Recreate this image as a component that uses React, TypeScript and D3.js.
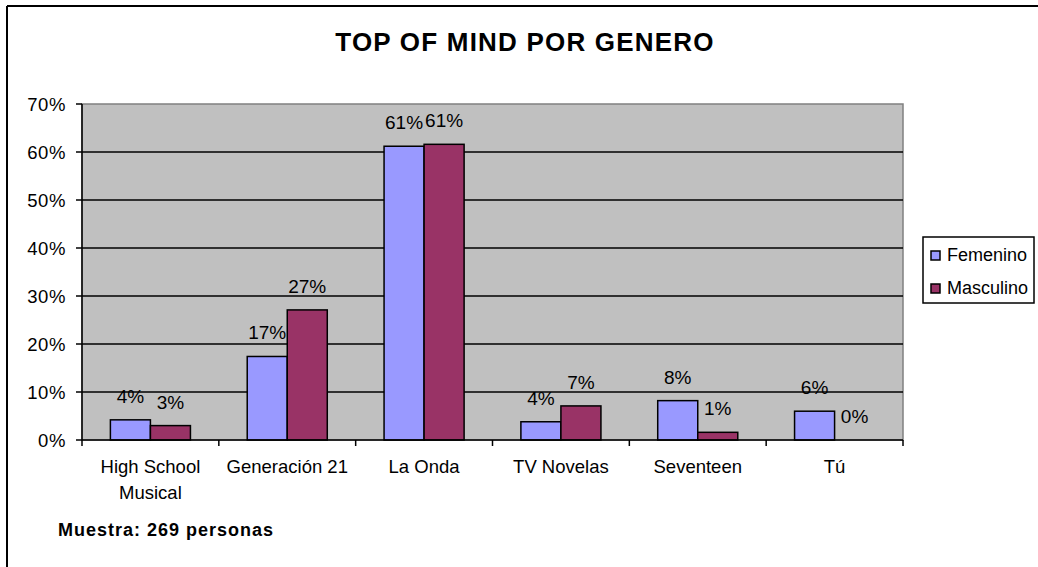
import React from "react";
import * as d3 from "d3";

const categories: string[][] = [
  ["High School", "Musical"],
  ["Generación 21"],
  ["La Onda"],
  ["TV Novelas"],
  ["Seventeen"],
  ["Tú"],
];
const catKeys = categories.map((c) => c.join(" "));
const femenino = [0.042, 0.174, 0.612, 0.038, 0.082, 0.06];
const masculino = [0.03, 0.271, 0.616, 0.071, 0.016, 0.0];
const femLabels = ["4%", "17%", "61%", "4%", "8%", "6%"];
const mascLabels = ["3%", "27%", "61%", "7%", "1%", "0%"];
const yTicks = [0, 0.1, 0.2, 0.3, 0.4, 0.5, 0.6, 0.7];
const seriesNames = ["Femenino", "Masculino"];
const seriesColors = ["#9999FF", "#993366"];

const FONT = "'Liberation Sans', Arial, sans-serif";

export default function App() {
  const W = 1038;
  const H = 567;
  const left = 82;
  const right = 903;
  const top = 104;
  const bottom = 440;

  const x = d3.scaleBand<string>().domain(catKeys).range([left, right]).paddingInner(0).paddingOuter(0);
  const y = d3.scaleLinear().domain([0, 0.7]).range([bottom, top]);
  const bw = x.bandwidth();
  const barW = bw * 0.2925;
  const fmt = d3.format(".0%");

  const series = [femenino, masculino];
  const seriesLabels = [femLabels, mascLabels];

  return (
    <svg
      width={W}
      height={H}
      style={{ position: "absolute", left: 0, top: 0, background: "#fff" }}
      fontFamily={FONT}
    >
      <rect x={0} y={0} width={W} height={H} fill="#fff" />
      {/* chart border */}
      <line x1={7} y1={6} x2={W} y2={6} stroke="#000" strokeWidth={2} />
      <line x1={7} y1={6} x2={7} y2={H} stroke="#000" strokeWidth={2} />

      {/* title */}
      <text x={525} y={51} textAnchor="middle" fontWeight="bold" fontSize={26} letterSpacing={1.2} fill="#000">
        TOP OF MIND POR GENERO
      </text>

      {/* plot area */}
      <rect x={left} y={top} width={right - left} height={bottom - top} fill="#C0C0C0" stroke="#808080" strokeWidth={1.5} />

      {/* gridlines */}
      {yTicks.slice(1, -1).map((t) => (
        <line key={"g" + t} x1={left} x2={right} y1={y(t)} y2={y(t)} stroke="#000" strokeWidth={1.5} />
      ))}

      {/* bars */}
      {catKeys.map((c, i) => {
        const cx = (x(c) as number) + bw / 2;
        return series.map((s, si) => {
          const bx = cx - barW + si * barW;
          const v = s[i];
          return (
            <g key={c + si}>
              {v > 0 && (
                <rect
                  x={bx}
                  y={y(v)}
                  width={barW}
                  height={bottom - y(v)}
                  fill={seriesColors[si]}
                  stroke="#000"
                  strokeWidth={1.5}
                />
              )}
            </g>
          );
        });
      })}

      {/* data labels */}
      {catKeys.map((c, i) => {
        const cx = (x(c) as number) + bw / 2;
        return series.map((s, si) => {
          const bx = cx - barW + si * barW;
          return (
            <text
              key={"l" + c + si}
              x={bx + barW / 2}
              y={y(s[i]) - 17}
              textAnchor="middle"
              fontSize={19}
              fill="#000"
            >
              {seriesLabels[si][i]}
            </text>
          );
        });
      })}

      {/* axes */}
      <line x1={left} x2={left} y1={top} y2={bottom} stroke="#000" strokeWidth={1.5} />
      <line x1={left} x2={right} y1={bottom} y2={bottom} stroke="#000" strokeWidth={1.5} />
      {yTicks.map((t) => (
        <g key={"yt" + t}>
          <line x1={left - 6} x2={left} y1={y(t)} y2={y(t)} stroke="#000" strokeWidth={1.5} />
          <text x={66} y={y(t) + 6.5} textAnchor="end" fontSize={18.5} letterSpacing={0.6} fill="#000">
            {fmt(t)}
          </text>
        </g>
      ))}
      {catKeys.map((c) => (
        <line key={"xt" + c} x1={x(c) as number} x2={x(c) as number} y1={bottom} y2={bottom + 6} stroke="#000" strokeWidth={1.5} />
      ))}
      <line x1={right} x2={right} y1={bottom} y2={bottom + 6} stroke="#000" strokeWidth={1.5} />
      {categories.map((lines, i) => {
        const cx = (x(catKeys[i]) as number) + bw / 2;
        return (
          <text key={"xl" + i} textAnchor="middle" fontSize={18.5} fill="#000">
            {lines.map((ln, li) => (
              <tspan key={li} x={cx} y={473 + li * 26}>
                {ln}
              </tspan>
            ))}
          </text>
        );
      })}

      {/* legend */}
      <rect x={923} y={237} width={111} height={66} fill="#fff" stroke="#000" strokeWidth={1.5} />
      {seriesNames.map((n, i) => (
        <g key={n}>
          <rect x={931} y={251 + i * 33} width={9} height={9} fill={seriesColors[i]} stroke="#000" strokeWidth={1.5} />
          <text x={947} y={261 + i * 33} fontSize={18} fill="#000">
            {n}
          </text>
        </g>
      ))}

      {/* footnote */}
      <text x={58} y={536} fontSize={18} fontWeight="bold" letterSpacing={1} fill="#000">
        Muestra: 269 personas
      </text>
    </svg>
  );
}
